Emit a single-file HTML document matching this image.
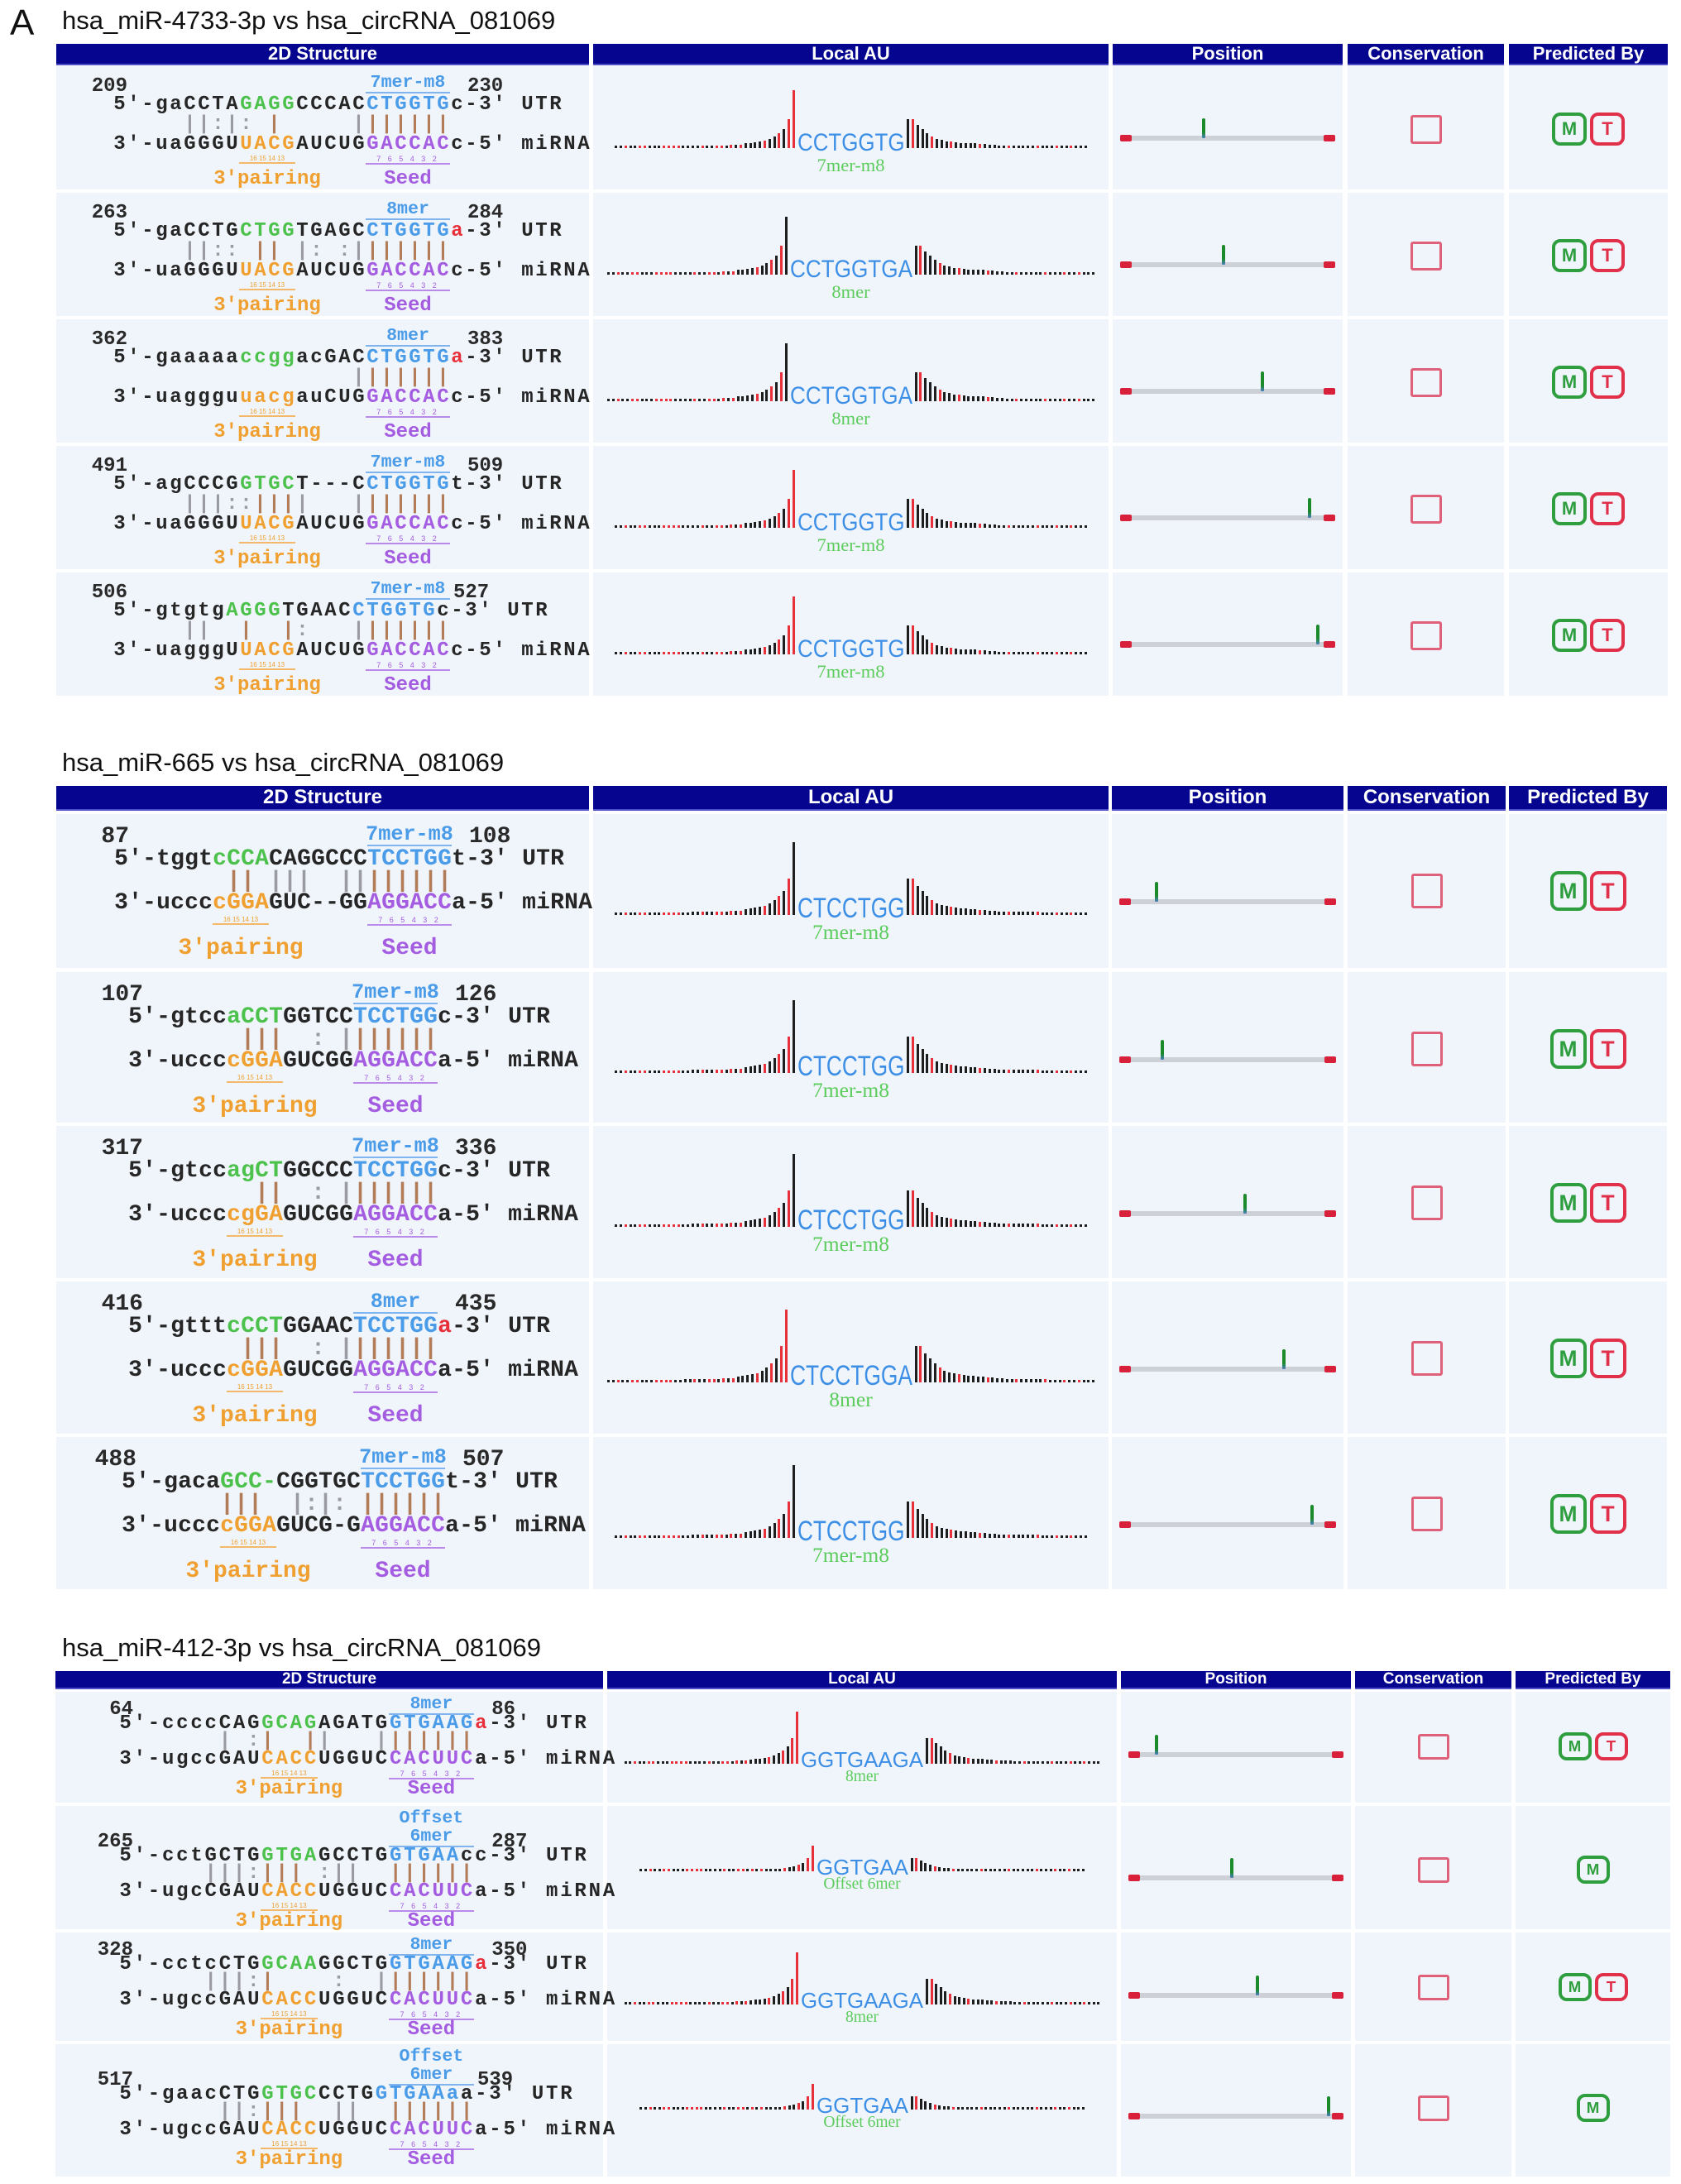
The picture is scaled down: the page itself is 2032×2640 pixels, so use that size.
<!DOCTYPE html>
<html><head><meta charset="utf-8">
<style>
body{margin:0;background:#fff;}
#root{position:relative;width:2032px;height:2640px;overflow:hidden;background:#fff;font-family:"Liberation Sans",sans-serif;}
.abs{position:absolute;}
.title{position:absolute;font-family:"Liberation Sans",sans-serif;font-size:31px;color:#111;white-space:nowrap;line-height:1;}
.hdr{position:absolute;background:#05058f;color:#fff;font-weight:bold;text-align:center;white-space:nowrap;border-bottom:2px solid #4d4dc8;box-sizing:border-box;}
.cell{position:absolute;background:#f0f5fc;}
.mono{position:absolute;font-family:"Liberation Mono",monospace;font-weight:bold;white-space:pre;line-height:1;color:#2a2a2a;}
.ch{display:inline-block;text-align:center;}
.small{position:absolute;white-space:nowrap;line-height:1;text-align:center;}
.box{position:absolute;box-sizing:border-box;border-radius:10px;font-weight:bold;text-align:center;font-family:"Liberation Sans",sans-serif;}
</style></head>
<body>
<div id="root">
<div class="title" style="left:12px;top:6px;font-size:44px;">A</div>
</div>
<script>
// ---------- data: section titles ----------
const sectionTitles = ["hsa_miR-4733-3p vs hsa_circRNA_081069","hsa_miR-665 vs hsa_circRNA_081069","hsa_miR-412-3p vs hsa_circRNA_081069"];
const headerLabels = ["2D Structure","Local AU","Position","Conservation","Predicted By"];
// section 1
const s1Start = [209,263,362,491,506];
const s1End = [230,284,383,509,527];
const s1Type = ["7mer-m8","8mer","8mer","7mer-m8","7mer-m8"];
const s1Utr = ["5'-gaCCTAGAGGCCCACCTGGTGc-3' UTR","5'-gaCCTGCTGGTGAGCCTGGTGa-3' UTR","5'-gaaaaaccggacGACCTGGTGa-3' UTR","5'-agCCCGGTGCT---CCTGGTGt-3' UTR","5'-gtgtgAGGGTGAACCTGGTGc-3' UTR"];
const s1Mir = ["3'-uaGGGUUACGAUCUGGACCACc-5' miRNA","3'-uaGGGUUACGAUCUGGACCACc-5' miRNA","3'-uaggguuacgauCUGGACCACc-5' miRNA","3'-uaGGGUUACGAUCUGGACCACc-5' miRNA","3'-uagggUUACGAUCUGGACCACc-5' miRNA"];
const s1Pair = ["     ||:|: |     |||||||","     ||:: || |: :|||||||","                 |||||||","     |||::||||   |||||||","     ||  |  |:   |||||||"];
const s1Green = [[9,13],[9,13],[9,13],[9,13],[8,12]];
const s1Orange = [[9,13],[9,13],[9,13],[9,13],[9,13]];
const s1Seed = ["CTGGTG","CTGGTG","CTGGTG","CTGGTG","CTGGTG"];
const s1Au = ["CCTGGTG","CCTGGTGA","CCTGGTGA","CCTGGTG","CCTGGTG"];
const s1Pos = [0.39,0.48,0.66,0.88,0.92];
const s1Pred = ["MT","MT","MT","MT","MT"];
const s1Peak = ["r","k","k","r","r"];
// section 2
const s2Start = [87,107,317,416,488];
const s2End = [108,126,336,435,507];
const s2Type = ["7mer-m8","7mer-m8","7mer-m8","8mer","7mer-m8"];
const s2Utr = ["5'-tggtcCCACAGGCCCTCCTGGt-3' UTR","5'-gtccaCCTGGTCCTCCTGGc-3' UTR","5'-gtccagCTGGCCCTCCTGGc-3' UTR","5'-gtttcCCTGGAACTCCTGGa-3' UTR","5'-gacaGCC-CGGTGCTCCTGGt-3' UTR"];
const s2Mir = ["3'-uccccGGAGUC--GGAGGACCa-5' miRNA","3'-uccccGGAGUCGGAGGACCa-5' miRNA","3'-uccccgGAGUCGGAGGACCa-5' miRNA","3'-uccccGGAGUCGGAGGACCa-5' miRNA","3'-uccccGGAGUCG-GAGGACCa-5' miRNA"];
const s2Pair = ["        || |||  ||||||||","        |||  : |||||||","         ||  : |||||||","        |||  : |||||||","       |||  |:|: ||||||"];
const s2Green = [[7,11],[7,11],[7,11],[7,11],[7,11]];
const s2Orange = [[7,11],[7,11],[7,11],[7,11],[7,11]];
const s2Seed = ["TCCTGG","TCCTGG","TCCTGG","TCCTGG","TCCTGG"];
const s2Au = ["CTCCTGG","CTCCTGG","CTCCTGG","CTCCTGGA","CTCCTGG"];
const s2Pos = [0.17,0.2,0.58,0.76,0.89];
const s2Pred = ["MT","MT","MT","MT","MT"];
const s2Peak = ["k","k","k","r","k"];
// section 3
const s3Start = [64,265,328,517];
const s3End = [86,287,350,539];
const s3Type = ["8mer","Offset 6mer","8mer","Offset 6mer"];
const s3Utr = ["5'-ccccCAGGCAGAGATGGTGAAGa-3' UTR","5'-cctGCTGGTGAGCCTGGTGAAcc-3' UTR","5'-cctcCTGGCAAGGCTGGTGAAGa-3' UTR","5'-gaacCTGGTGCCCTGGTGAAaa-3' UTR"];
const s3Mir = ["3'-ugccGAUCACCUGGUCCACUUCa-5' miRNA","3'-ugcCGAUCACCUGGUCCACUUCa-5' miRNA","3'-ugccGAUCACCUGGUCCACUUCa-5' miRNA","3'-ugccGAUCACCUGGUCCACUUCa-5' miRNA"];
const s3Pair = ["       | :|  ||   |||||||","      |||:||| :||  ||||||","      |||:|    :  |||||||","       ||:|||  ||  ||||||"];
const s3Green = [[10,14],[10,14],[10,14],[10,14]];
const s3Orange = [[10,14],[10,14],[10,14],[10,14]];
const s3Seed = ["GTGAAG","GTGAA","GTGAAG","GTGAAa"];
const s3Au = ["GGTGAAGA","GGTGAA","GGTGAAGA","GGTGAA"];
const s3Pos = [0.13,0.48,0.6,0.93];
const s3Pred = ["MT","M","MT","M"];
const s3Peak = ["r","r","r","r"];
// local AU bar heights (fraction of peak), left-to-right
const auLeft = [0.03,0.03,0.03,0.03,0.03,0.03,0.03,0.03,0.03,0.03,0.03,0.03,0.03,0.03,0.03,0.03,0.04,0.04,0.04,0.04,0.05,0.05,0.05,0.05,0.06,0.06,0.06,0.08,0.09,0.1,0.11,0.13,0.16,0.2,0.26,0.33,0.5,1.0];
const auRight = [0.5,0.5,0.4,0.33,0.26,0.2,0.16,0.14,0.12,0.11,0.1,0.09,0.09,0.08,0.08,0.07,0.07,0.06,0.06,0.05,0.05,0.05,0.04,0.04,0.04,0.04,0.04,0.04,0.03,0.03,0.03,0.03,0.03,0.03,0.03,0.03,0.03,0.03];
const auLeftColors = "kkrkkrrkkkrrrrkkkkrkkrrkrkrkkkkrkkrkr";
const auRightColors = "krkkkrkkkrkkkkkrkkkkkrkkkkkrkkkrkkrkkk";

// ---------- layout (not data) ----------
const C = {k:"#262626",g:"#4cc24c",b:"#4a9be8",r:"#e8303a",o:"#f0a030",p:"#a45ce0"};
const layouts = [
 {titleY:9, hTop:53, hH:26, hFs:22, cols:[[68,712],[717,1340],[1345,1623],[1629,1818],[1824,2016]],
  tops:[80,233,386,539,692], hs:[149,149,149,149,149], fs:24, cw:17, x0:[136,136,136,136,136],
  o:{num:23,type:20,utr:48,pair:72,mir:96,sn:112,lab:136}, au:{base:99,peak:70,fs:30,lab:117,sp:5.8}, posY:87, boxY:76, sq:[38,35], mt:[42,40],
  start:s1Start,end:s1End,type:s1Type,utr:s1Utr,mir:s1Mir,pair:s1Pair,green:s1Green,orange:s1Orange,seed:s1Seed,aus:s1Au,pos:s1Pos,pred:s1Pred,peak:s1Peak,mseed:"GACCAC",shift:[]},
 {titleY:906, hTop:950, hH:30, hFs:24, cols:[[68,712],[717,1340],[1344,1624],[1629,1820],[1824,2015]],
  tops:[984,1175,1361,1549,1737], hs:[186,182,184,184,184], fs:28, cw:17, x0:[138,155,155,155,147],
  o:{num:26,type:24,utr:56,pair:83,mir:109,sn:128,lab:162}, au:{base:122,peak:88,fs:34,lab:140,sp:5.8}, posY:106, boxY:93, sq:[38,42], mt:[44,48],
  start:s2Start,end:s2End,type:s2Type,utr:s2Utr,mir:s2Mir,pair:s2Pair,green:s2Green,orange:s2Orange,seed:s2Seed,aus:s2Au,pos:s2Pos,pred:s2Pred,peak:s2Peak,mseed:"AGGACC",shift:[]},
 {titleY:1976, hTop:2020, hH:22, hFs:19, cols:[[67,729],[734,1350],[1355,1633],[1638,1827],[1832,2019]],
  tops:[2045,2183,2336,2471], hs:[134,149,131,160], fs:24, cw:17.2, x0:[143,143,143,143],
  o:{num:20,type:15,utr:40,pair:61,mir:83,sn:99,lab:117}, au:{base:87,peak:63,fs:26,lab:101,sp:5.6}, posY:76, boxY:66, sq:[38,31], mt:[40,34],
  start:s3Start,end:s3End,type:s3Type,utr:s3Utr,mir:s3Mir,pair:s3Pair,green:s3Green,orange:s3Orange,seed:s3Seed,aus:s3Au,pos:s3Pos,pred:s3Pred,peak:s3Peak,mseed:"CACUUC",shift:[0,22,0,22]}
];
const root = document.getElementById('root');
function mk(cls, css, parent){const e=document.createElement('div'); if(cls) e.className=cls; e.style.cssText=css; (parent||root).appendChild(e); return e;}

function monoLine(str, colors, x, y, fs, cw, name){
  const d = mk('mono', `left:${x}px;top:${y-fs*0.55}px;font-size:${fs}px;`);
  
  
  for(let i=0;i<str.length;i++){
    const s=document.createElement('span'); s.className='ch';
    s.style.width=cw+'px'; s.style.color=colors[i]||C.k; s.textContent=str[i];
    d.appendChild(s);
  }
  return d;
}

layouts.forEach((L, si) => {
  const t = mk('title', `left:75px;top:${L.titleY}px;`);
  
  
  t.textContent = sectionTitles[si];
  L.cols.forEach((c, ci) => {
    const h = mk('hdr', `left:${c[0]}px;top:${L.hTop}px;width:${c[1]-c[0]}px;height:${L.hH}px;font-size:${L.hFs}px;line-height:${L.hH-2}px;`);
    
    
    h.textContent = headerLabels[ci];
  });
  L.tops.forEach((top, ri) => {
    const H = L.hs[ri], sh = L.shift[ri]||0;
    L.cols.forEach((c, ci) => {
      const cell = mk('cell', `left:${c[0]}px;top:${top}px;width:${c[1]-c[0]}px;height:${H}px;`);
      
      
    });
    // ---- 2D structure ----
    const utr=L.utr[ri], mir=L.mir[ri], x0=L.x0[ri], cw=L.cw, fs=L.fs;
    const sIdx = utr.lastIndexOf(L.seed[ri]); const sEnd = sIdx + L.seed[ri].length;
    const uc = [];
    for(let i=0;i<utr.length;i++){
      if(i>=L.green[ri][0]&&i<L.green[ri][1]) uc[i]=C.g;
      else if(i>=sIdx&&i<sEnd) uc[i]=C.b;
      else if(L.type[ri]==="8mer"&&i===sEnd) uc[i]=C.r;
      else uc[i]=C.k;
    }
    const mIdx = mir.toUpperCase().lastIndexOf(L.mseed); const mEnd=mIdx+6;
    const mc=[];
    for(let i=0;i<mir.length;i++){
      if(i>=L.orange[ri][0]&&i<L.orange[ri][1]) mc[i]=C.o;
      else if(i>=mIdx&&i<mEnd) mc[i]=C.p; else mc[i]=C.k;
    }
    const pc=[]; const pr=L.pair[ri];
    for(let i=0;i<pr.length;i++){
      const brown=(i>=L.orange[ri][0]&&i<L.orange[ri][1])||(i>=mIdx&&i<mEnd);
      pc[i]= (pr[i]==='|'&&brown)?'#b27c58':'#9a9aa2';
    }
    monoLine(utr, uc, x0, top+L.o.utr+sh, fs, cw, 'utr-sequence');
    monoLine(pr, pc, x0, top+L.o.pair+sh, fs, cw, 'pairing-bars');
    monoLine(mir, mc, x0, top+L.o.mir+sh, fs, cw, 'mirna-sequence');
    const n1 = mk('small', `left:${x0+18-80}px;width:80px;text-align:right;top:${top+L.o.num+sh-fs*0.5}px;font:bold ${fs}px "Liberation Mono",monospace;color:#2a2a2a;`);
    
    
    n1.textContent = L.start[ri];
    const dash = utr.indexOf("-3'");
    const n2 = mk('small', `left:${x0+dash*cw+4}px;top:${top+L.o.num+sh-fs*0.5}px;font:bold ${fs}px "Liberation Mono",monospace;color:#2a2a2a;text-align:left;`);
    
    
    n2.textContent = L.end[ri];
    const seedL = x0+mIdx*cw, seedW = 6*cw;
    const tl = L.type[ri].split(' ');
    tl.forEach((w, wi) => {
      const ty = mk('small', `left:${seedL-10}px;width:${seedW+20}px;top:${top+L.o.type+sh-fs*0.5-(tl.length-1-wi)*fs*0.9}px;font:bold ${fs*0.9}px "Liberation Mono",monospace;color:${C.b};`);
      
      
      ty.textContent = w;
    });
    const ul = mk('abs', `left:${seedL}px;width:${seedW}px;top:${top+L.o.type+sh+fs*0.45}px;height:2px;background:#7fb4ee;`);
    
    
    const oL = x0+L.orange[ri][0]*cw, oW=(L.orange[ri][1]-L.orange[ri][0])*cw;
    const sn = mk('small', `left:${seedL}px;width:${seedW}px;top:${top+L.o.sn+sh-5}px;font:9px "Liberation Sans",sans-serif;color:${C.p};border-bottom:2px solid #b98ae8;letter-spacing:3px;`);
    
    
    sn.textContent = '7 6 5 4 3 2';
    const on = mk('small', `left:${oL}px;width:${oW}px;top:${top+L.o.sn+sh-5}px;font:8px "Liberation Sans",sans-serif;color:${C.o};border-bottom:2px solid #f3b86a;`);
    
    
    on.textContent = '16 15 14 13';
    const pl = mk('small', `left:${oL-60}px;width:${oW+120}px;top:${top+L.o.lab+sh-fs*0.55}px;font:bold ${fs}px "Liberation Mono",monospace;color:${C.o};`);
    
    
    pl.textContent = "3'pairing";
    const sl = mk('small', `left:${seedL-20}px;width:${seedW+40}px;top:${top+L.o.lab+sh-fs*0.55}px;font:bold ${fs}px "Liberation Mono",monospace;color:${C.p};`);
    
    
    sl.textContent = "Seed";
    // ---- Local AU ----
    const ac = L.cols[1]; const cx = (ac[0]+ac[1])/2;
    const offset = L.type[ri].indexOf('Offset')===0;
    const peakPx = offset ? L.au.peak*0.5 : L.au.peak;
    const base = top + L.au.base + (offset? -8 : 0);
    const seq = L.aus[ri]; const tw = seq.length*18.5;
    const tx = cx - tw/2;
    const st = mk('small', `left:${tx}px;top:${base-L.au.fs*0.78}px;width:${tw}px;font:${L.au.fs}px "Liberation Sans",sans-serif;color:#3d8fe6;text-align:left;`);
    
    
    const inner=document.createElement('span'); inner.textContent=seq; inner.style.display='inline-block'; inner.style.transformOrigin='0 0'; st.appendChild(inner);
    const nat = inner.getBoundingClientRect().width||tw; inner.style.transform=`scaleX(${tw/nat})`;
    const lab = mk('small', `left:${cx-150}px;width:300px;top:${base+(L.au.lab-L.au.base)-L.au.fs*0.35}px;font:${L.au.fs*0.75}px "Liberation Serif",serif;color:#5ccc5c;`);
    
    
    lab.textContent = L.type[ri];
    const sp = L.au.sp;
    auLeft.forEach((v, i) => {
      const h = Math.max(3, v*peakPx);
      let col = auLeftColors[i]==='r'?C.r:'#1e1e1e';
      if(i===auLeft.length-1) col = L.peak[ri]==='r'?C.r:'#1e1e1e';
      if(i===auLeft.length-2 && L.peak[ri]==='k' && L.type[ri]==='8mer') col=C.r;
      const x = tx - 6 - (auLeft.length-1-i)*sp;
      const b = mk('abs', `left:${x}px;top:${base-h}px;width:3px;height:${h}px;background:${col};`);
      
      
    });
    auRight.forEach((v, i) => {
      const h = Math.max(3, v*peakPx);
      const col = auRightColors[i]==='r'?C.r:'#1e1e1e';
      const x = tx + tw + 3 + i*sp;
      const b = mk('abs', `left:${x}px;top:${base-h}px;width:3px;height:${h}px;background:${col};`);
      
      
    });
    // ---- Position ----
    const pc2 = L.cols[2]; const lx0=pc2[0]+9, lx1=pc2[1]-9; const ly = top+L.posY+sh*0.5;
    const line = mk('abs', `left:${lx0}px;top:${ly-3}px;width:${lx1-lx0}px;height:6px;background:#cdd0d6;`);
    
    
    [lx0, lx1-14].forEach(x => {
      const cap = mk('abs', `left:${x}px;top:${ly-4}px;width:14px;height:8px;background:#d8203a;border-radius:2px;`);
      
      
    });
    const mx = lx0 + L.pos[ri]*(lx1-lx0);
    const mkk = mk('abs', `left:${mx-2}px;top:${ly-24}px;width:4px;height:24px;background:linear-gradient(#1a8a2a 70%,#4a7fc0);border-radius:2px 2px 1px 1px;`);
    
    
    // ---- Conservation ----
    const cc = L.cols[3]; const by = top+L.boxY+sh*0.5;
    const sq = mk('abs', `left:${(cc[0]+cc[1])/2-L.sq[0]/2}px;top:${by-L.sq[1]/2}px;width:${L.sq[0]}px;height:${L.sq[1]}px;border:3px solid #e0607a;border-radius:3px;box-sizing:border-box;`);
    
    
    // ---- Predicted ----
    const qc = L.cols[4]; const qx=(qc[0]+qc[1])/2; const p=L.pred[ri];
    const w=L.mt[0], hh=L.mt[1];
    const items = p==="MT" ? [["M",qx-w-2,"#2e9e3e"],["T",qx+2,"#e0304a"]] : [["M",qx-w/2,"#2e9e3e"]];
    items.forEach(it => {
      const bx = mk('box', `left:${it[1]}px;top:${by-hh/2}px;width:${w}px;height:${hh}px;border:4px solid ${it[2]};color:${it[2]};font-size:${hh*0.55}px;line-height:${hh-8}px;`);
      
      
      bx.textContent = it[0];
    });
  });
});
</script>
</body></html>
